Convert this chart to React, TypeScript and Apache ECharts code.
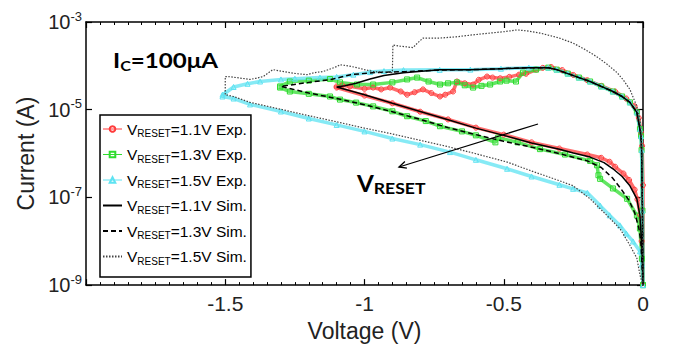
import React, { useEffect, useRef } from 'react';
import * as echarts from 'echarts';

type Pt = [number, number];

// ---- axis ticks ----
const xTicks = [-2, -1.5, -1, -0.5, 0];
const yDecadesLabelled = [-9, -7, -5, -3];

// ---- shared low-resistance branch near 0 V ----
const lrsNearZero: Pt[] = [
  [0, 1e-9], [-0.002, 5e-8], [-0.005, 1.2e-6], [-0.007, 2.5e-6], [-0.011, 3.6e-6],
  [-0.022, 8.7e-6], [-0.047, 1.47e-5], [-0.075, 2.0e-5], [-0.108, 2.6e-5], [-0.15, 3.4e-5],
  [-0.19, 4.4e-5], [-0.23, 5.4e-5], [-0.27, 6.65e-5], [-0.31, 8.2e-5], [-0.34, 9.1e-5],
  [-0.41, 9.1e-5], [-0.51, 8.6e-5], [-0.62, 8.2e-5],
];

// ---- simulation 1.1 V ----
const sim11Upper: Pt[] = [
  [-0.73, 8.2e-5], [-0.86, 7.0e-5], [-0.93, 6.0e-5], [-0.98, 5.0e-5], [-1.03, 4.0e-5],
  [-1.07, 3.5e-5], [-1.1, 3.3e-5],
];
const sim11Lower: Pt[] = [
  [-1.1, 3.3e-5], [-1.0, 2.2e-5], [-0.9, 1.4e-5], [-0.8, 9.1e-6], [-0.7, 5.9e-6],
  [-0.6, 3.8e-6], [-0.5, 2.6e-6], [-0.4, 1.74e-6], [-0.3, 1.25e-6], [-0.25, 1.03e-6],
  [-0.19, 8.3e-7], [-0.14, 6.2e-7], [-0.108, 4.5e-7], [-0.075, 3.0e-7], [-0.047, 1.84e-7],
  [-0.022, 9.3e-8], [-0.011, 3.85e-8], [-0.004, 7e-9], [0, 1e-9],
];

// ---- simulation 1.3 V ----
const sim13Upper: Pt[] = [
  [-0.73, 8.0e-5], [-0.85, 7.4e-5], [-0.97, 7.0e-5], [-1.05, 6.3e-5], [-1.12, 4.9e-5],
  [-1.2, 4.2e-5], [-1.3, 3.4e-5],
];
const sim13Lower: Pt[] = [
  [-1.3, 3.4e-5], [-1.2, 2.4e-5], [-1.1, 1.8e-5], [-1.0, 1.3e-5], [-0.9, 9e-6],
  [-0.8, 6e-6], [-0.7, 3.9e-6], [-0.6, 2.7e-6], [-0.5, 1.9e-6], [-0.4, 1.4e-6],
  [-0.3, 1.0e-6], [-0.2, 6.8e-7], [-0.15, 4.8e-7], [-0.11, 2.8e-7], [-0.08, 1.6e-7],
  [-0.05, 8.5e-8], [-0.03, 4.5e-8], [-0.015, 2e-8], [-0.008, 1e-8], [0, 1e-9],
];

// ---- simulation 1.5 V ----
const sim15Upper: Pt[] = [
  [0, 1e-9], [-0.002, 1e-7], [-0.005, 2e-6], [-0.007, 3.1e-6], [-0.011, 6e-6],
  [-0.022, 1.19e-5], [-0.047, 2.9e-5], [-0.07, 4.7e-5], [-0.093, 7.0e-5], [-0.13, 1.1e-4],
  [-0.165, 1.6e-4], [-0.21, 2.4e-4], [-0.251, 3.3e-4], [-0.3, 4.3e-4], [-0.37, 5.6e-4],
  [-0.42, 6.3e-4], [-0.452, 6.6e-4], [-0.5, 6.0e-4], [-0.549, 5.6e-4], [-0.61, 5.1e-4],
  [-0.67, 4.6e-4], [-0.729, 4.3e-4], [-0.79, 4.3e-4], [-0.81, 3.3e-4], [-0.826, 2.6e-4],
  [-0.847, 2.7e-4], [-0.87, 2.8e-4], [-0.898, 3.0e-4], [-0.9, 7.0e-5], [-0.93, 7.2e-5],
  [-0.969, 7.4e-5], [-1.0, 8.2e-5], [-1.027, 9.1e-5], [-1.06, 1.0e-4], [-1.088, 1.06e-4],
  [-1.1, 9.6e-5], [-1.149, 7.4e-5], [-1.18, 7.0e-5], [-1.206, 6.3e-5], [-1.24, 6.6e-5],
  [-1.268, 7.0e-5], [-1.3, 7.6e-5], [-1.329, 8.2e-5], [-1.364, 5.7e-5], [-1.39, 5.2e-5],
  [-1.411, 4.9e-5], [-1.45, 5.3e-5], [-1.49, 5.7e-5], [-1.5, 5.7e-5], [-1.5, 2.2e-5],
];
const sim15Lower: Pt[] = [
  [-1.5, 2.2e-5], [-1.47, 2.0e-5], [-1.411, 1.47e-5], [-1.3, 1.02e-5], [-1.2, 7.3e-6],
  [-1.1, 5.3e-6], [-1.0, 3.8e-6], [-0.9, 2.8e-6], [-0.8, 2.0e-6], [-0.693, 1.4e-6],
  [-0.6, 9.9e-7], [-0.488, 6.4e-7], [-0.4, 4.0e-7], [-0.3, 2.4e-7], [-0.251, 1.84e-7],
  [-0.19, 9.3e-8], [-0.129, 3.85e-8], [-0.083, 1.95e-8], [-0.047, 8.1e-9], [-0.022, 4.1e-9],
  [-0.011, 1.7e-9], [0, 1e-9],
];

// ---- experiment 1.1 V ----
const exp11Upper: Pt[] = [
  [0, 1e-9], [0, 1.9e-7], [-0.003, 1.5e-6], [-0.007, 3e-6], [-0.015, 6.5e-6], [-0.03, 1.2e-5],
  [-0.06, 1.8e-5], [-0.1, 2.6e-5], [-0.15, 3.5e-5], [-0.2, 4.7e-5], [-0.25, 6.2e-5],
  [-0.29, 8.0e-5], [-0.33, 9.4e-5], [-0.36, 9.0e-5], [-0.384, 8.2e-5], [-0.42, 6.6e-5],
  [-0.445, 6.3e-5], [-0.48, 5.6e-5], [-0.513, 5.2e-5], [-0.54, 5.4e-5], [-0.56, 5.7e-5],
  [-0.59, 4.8e-5], [-0.61, 3.75e-5], [-0.64, 4.0e-5], [-0.668, 4.4e-5], [-0.682, 2.6e-5],
  [-0.71, 2.2e-5], [-0.729, 2.0e-5], [-0.76, 2.4e-5], [-0.79, 2.9e-5], [-0.82, 2.5e-5],
  [-0.847, 2.2e-5], [-0.87, 2.6e-5], [-0.908, 3.2e-5], [-0.94, 2.9e-5], [-0.969, 3.2e-5],
  [-1.0, 3.0e-5], [-1.052, 3.4e-5], [-1.08, 3.6e-5], [-1.1, 3.4e-5],
];
const exp11Lower: Pt[] = [
  [-1.1, 3.2e-5], [-1.0, 2.1e-5], [-0.9, 1.4e-5], [-0.8, 9e-6], [-0.7, 6e-6],
  [-0.6, 3.9e-6], [-0.5, 2.7e-6], [-0.4, 1.8e-6], [-0.3, 1.3e-6], [-0.2, 9.5e-7],
  [-0.15, 8e-7], [-0.12, 6.5e-7], [-0.1, 5e-7], [-0.07, 3.5e-7], [-0.05, 2.5e-7],
  [-0.03, 1.5e-7], [-0.02, 9e-8], [-0.01, 4e-8], [-0.005, 1e-8], [0, 1e-9],
];

// ---- experiment 1.3 V ----
const exp13Upper: Pt[] = [
  [-0.384, 8.2e-5], [-0.431, 7.0e-5], [-0.456, 4.4e-5], [-0.49, 4.6e-5], [-0.513, 4.4e-5],
  [-0.549, 3.75e-5], [-0.58, 3.5e-5], [-0.61, 3.2e-5], [-0.64, 3.6e-5], [-0.668, 4.2e-5],
  [-0.7, 4.0e-5], [-0.729, 3.75e-5], [-0.77, 4.4e-5], [-0.811, 5.4e-5], [-0.847, 4.9e-5],
  [-0.9, 4.2e-5], [-0.969, 3.75e-5], [-1.027, 3.75e-5], [-1.088, 4.2e-5], [-1.124, 5.0e-5],
  [-1.2, 4.6e-5], [-1.268, 4.4e-5], [-1.303, 3.4e-5],
];
const exp13Lower: Pt[] = [
  [-1.303, 3.2e-5], [-1.268, 2.6e-5], [-1.2, 2.3e-5], [-1.124, 2.0e-5], [-1.088, 1.7e-5],
  [-1.03, 1.45e-5], [-0.969, 1.19e-5], [-0.9, 9.2e-6], [-0.847, 7.1e-6], [-0.78, 5.5e-6],
  [-0.729, 4.2e-6], [-0.65, 3.2e-6], [-0.6, 2.6e-6], [-0.53, 1.8e-6], [-0.52, 2.3e-6],
  [-0.45, 1.8e-6], [-0.37, 1.26e-6], [-0.28, 9.5e-7], [-0.19, 6.8e-7], [-0.165, 5.4e-7],
  [-0.16, 3.2e-7], [-0.154, 2.65e-7], [-0.108, 1.6e-7], [-0.057, 9.3e-8], [-0.022, 3.85e-8],
  [-0.011, 1.95e-8], [-0.004, 4e-9], [0, 1e-9],
];

// ---- experiment 1.5 V ----
const exp15Upper: Pt[] = [
  [-0.73, 8.1e-5], [-0.86, 8.0e-5], [-0.93, 7.6e-5], [-0.98, 7.2e-5], [-1.04, 6.3e-5],
  [-1.1, 5.6e-5], [-1.16, 5.4e-5], [-1.25, 5.1e-5], [-1.3, 4.9e-5], [-1.375, 4.4e-5],
  [-1.42, 3.9e-5], [-1.47, 3.3e-5], [-1.5, 2.4e-5], [-1.51, 2.2e-5],
];
const exp15Lower: Pt[] = [
  [-1.51, 2.0e-5], [-1.47, 1.8e-5], [-1.411, 1.32e-5], [-1.3, 9.1e-6], [-1.2, 6.3e-6],
  [-1.1, 4.5e-6], [-1.0, 3.2e-6], [-0.9, 2.2e-6], [-0.8, 1.6e-6], [-0.693, 1.08e-6],
  [-0.6, 7.2e-7], [-0.488, 4.5e-7], [-0.4, 3.0e-7], [-0.3, 1.94e-7], [-0.251, 1.57e-7],
  [-0.2, 1.27e-7], [-0.154, 6.5e-8], [-0.12, 3.9e-8], [-0.083, 2.3e-8], [-0.06, 1.5e-8],
  [-0.036, 9.9e-9], [-0.011, 5.9e-9], [-0.004, 3e-9], [0, 1e-9],
];

const exp11 = [...exp11Upper, ...exp11Lower];
const exp13 = [...lrsNearZero.slice(0, 15), ...exp13Upper, ...exp13Lower];
const exp15 = [...lrsNearZero, ...exp15Upper, ...exp15Lower];
const sim11 = [...lrsNearZero, ...sim11Upper, ...sim11Lower];
const sim13 = [...lrsNearZero, ...sim13Upper, ...sim13Lower];
const sim15 = [...sim15Upper, ...sim15Lower];

const seriesNames = [
  'VRESET=1.1V Exp.', 'VRESET=1.3V Exp.', 'VRESET=1.5V Exp.',
  'VRESET=1.1V Sim.', 'VRESET=1.3V Sim.', 'VRESET=1.5V Sim.',
];

const FONT = '"Liberation Sans", Arial, sans-serif';
const BOLD = 'Lato, "Open Sans", sans-serif';

function expSeries(name: string, data: Pt[], color: string, symbol: string) {
  return {
    name, type: 'line', data, xAxisIndex: 0, yAxisIndex: 0,
    symbol, symbolSize: 5, showSymbol: true,
    lineStyle: { color, width: 3.5, opacity: 0.75 },
    itemStyle: { color: 'rgba(255,255,255,0)', borderColor: color, borderWidth: 1 },
    emphasis: { disabled: true }, z: 2,
  };
}
function simSeries(name: string, data: Pt[], color: string, width: number, type: any) {
  return {
    name, type: 'line', data, xAxisIndex: 0, yAxisIndex: 0,
    symbol: 'none', showSymbol: false,
    lineStyle: { color, width, type },
    itemStyle: { color },
    emphasis: { disabled: true }, z: 3,
  };
}

const yTickAxis = (position: 'left' | 'right', showLine: boolean) => ({
  type: 'value', min: 0, max: 6, interval: 2, position,
  axisLine: { show: showLine, onZero: false, lineStyle: { color: '#000', width: 1.5 } },
  axisTick: { show: true, inside: true, length: 6, lineStyle: { color: '#000', width: 1.2 } },
  axisLabel: { show: false }, splitLine: { show: false },
});

const xAxisBase = (position: 'bottom' | 'top', labels: boolean) => ({
  type: 'value', min: -2, max: 0, interval: 0.5, position,
  axisLine: { show: true, onZero: false, lineStyle: { color: '#000', width: 1.5 } },
  axisTick: { show: true, inside: true, length: 6, lineStyle: { color: '#000', width: 1.2 } },
  minorTick: { show: true, splitNumber: 10, length: 3, lineStyle: { color: '#000', width: 1 } },
  splitLine: { show: false },
  axisLabel: labels
    ? {
        show: true, fontSize: 21, fontFamily: FONT, color: '#222', margin: 8,
        formatter: (v: number) => (xTicks.indexOf(v) > 0 ? String(v) : ''),
      }
    : { show: false },
});

const hiddenDot = { color: 'rgba(0,0,0,0)', borderColor: 'rgba(0,0,0,0)', borderWidth: 0 };

export default function App() {
  const ref = useRef<HTMLDivElement>(null);
  useEffect(() => {
    const chart = echarts.init(ref.current!, null, { renderer: 'svg' });
    const option: any = {
      animation: false,
      backgroundColor: '#fff',
      grid: { left: 86, right: 33, top: 22, bottom: 60, containLabel: false },
      xAxis: [
        {
          ...xAxisBase('bottom', true),
          name: 'Voltage (V)', nameLocation: 'middle', nameGap: 25,
          nameTextStyle: { fontSize: 23, fontFamily: FONT, color: '#222' },
        },
        xAxisBase('top', false),
      ],
      yAxis: [
        {
          type: 'log', logBase: 10, min: 1e-9, max: 1e-3, splitNumber: 6, position: 'left',
          axisLine: { show: true, onZero: false, lineStyle: { color: '#000', width: 1.5 } },
          axisTick: { show: false }, splitLine: { show: false },
          axisLabel: {
            margin: 4, color: '#222',
            formatter: (v: number) => {
              const e = Math.round(Math.log10(v));
              return yDecadesLabelled.indexOf(e) >= 0 ? `{b|10}{e|${e}}` : '';
            },
            rich: {
              b: { fontSize: 20, fontFamily: FONT, color: '#222' },
              e: { fontSize: 13, fontFamily: FONT, color: '#222', padding: [0, 0, 12, 0] },
            },
          },
          name: 'Current (A)', nameLocation: 'middle', nameGap: 44,
          nameTextStyle: { fontSize: 23, fontFamily: FONT, color: '#222' },
        },
        yTickAxis('left', false),
        yTickAxis('right', true),
      ],
      legend: {
        orient: 'vertical', left: 100, top: 115,
        padding: [6, 4, 11, 2], itemGap: 8, itemWidth: 19, itemHeight: 7,
        backgroundColor: '#fff', borderColor: '#000', borderWidth: 1.5, borderRadius: 0,
        selectedMode: false,
        formatter: (name: string) => `{v|V}{s|RESET}{t|=${name.split('=')[1]}}`,
        textStyle: {
          color: '#000', fontFamily: FONT,
          rich: {
            v: { fontSize: 15.5, fontFamily: FONT, color: '#000' },
            s: { fontSize: 10, fontFamily: FONT, color: '#000', padding: [9, 0, 0, 0] },
            t: { fontSize: 15.5, fontFamily: FONT, color: '#000' },
          },
        },
        data: seriesNames.map((n, i) =>
          i < 3 ? { name: n, lineStyle: { width: 1, opacity: 1 } } : { name: n, itemStyle: hiddenDot },
        ),
      },
      graphic: [
        {
          type: 'text', x: 113, y: 49, scaleX: 1.15, z: 10,
          style: {
            text: '{a|I}{b|C}{a|=100μA}',
            rich: {
              a: { fontSize: 21, fontWeight: 'bold', fontFamily: BOLD, fill: '#000' },
              b: { fontSize: 14, fontWeight: 'bold', fontFamily: BOLD, fill: '#000', padding: [9, 0, 0, 0] },
            },
          },
        },
        {
          type: 'text', x: 357, y: 170, scaleX: 1.1, z: 10,
          style: {
            text: '{a|V}{b|RESET}',
            rich: {
              a: { fontSize: 22, fontWeight: 'bold', fontFamily: BOLD, fill: '#000' },
              b: { fontSize: 16, fontWeight: 'bold', fontFamily: BOLD, fill: '#000', padding: [10, 0, 0, 0] },
            },
          },
        },
        {
          type: 'line', z: 10,
          shape: { x1: 538, y1: 124, x2: 399, y2: 167 },
          style: { stroke: '#000', lineWidth: 1.3 },
        },
        {
          type: 'polyline', z: 10,
          shape: { points: [[406.9, 168.1], [399, 167], [404.9, 161.6]] },
          style: { stroke: '#000', lineWidth: 1.3, fill: 'none' },
        },
      ],
      series: [
        expSeries(seriesNames[0], exp11, '#ff3b3b', 'circle'),
        expSeries(seriesNames[1], exp13, '#2fdc2f', 'rect'),
        expSeries(seriesNames[2], exp15, '#5ee3f2', 'triangle'),
        simSeries(seriesNames[3], sim11, '#000', 1.5, 'solid'),
        simSeries(seriesNames[4], sim13, '#000', 1.5, [5, 3]),
        simSeries(seriesNames[5], sim15, '#444', 1.2, [1.5, 1.5]),
      ],
    };
    chart.setOption(option);
    return () => chart.dispose();
  }, []);
  return (
    <div
      ref={ref}
      style={{ position: 'fixed', left: 0, top: 0, width: 676, height: 347, background: '#fff' }}
    />
  );
}
